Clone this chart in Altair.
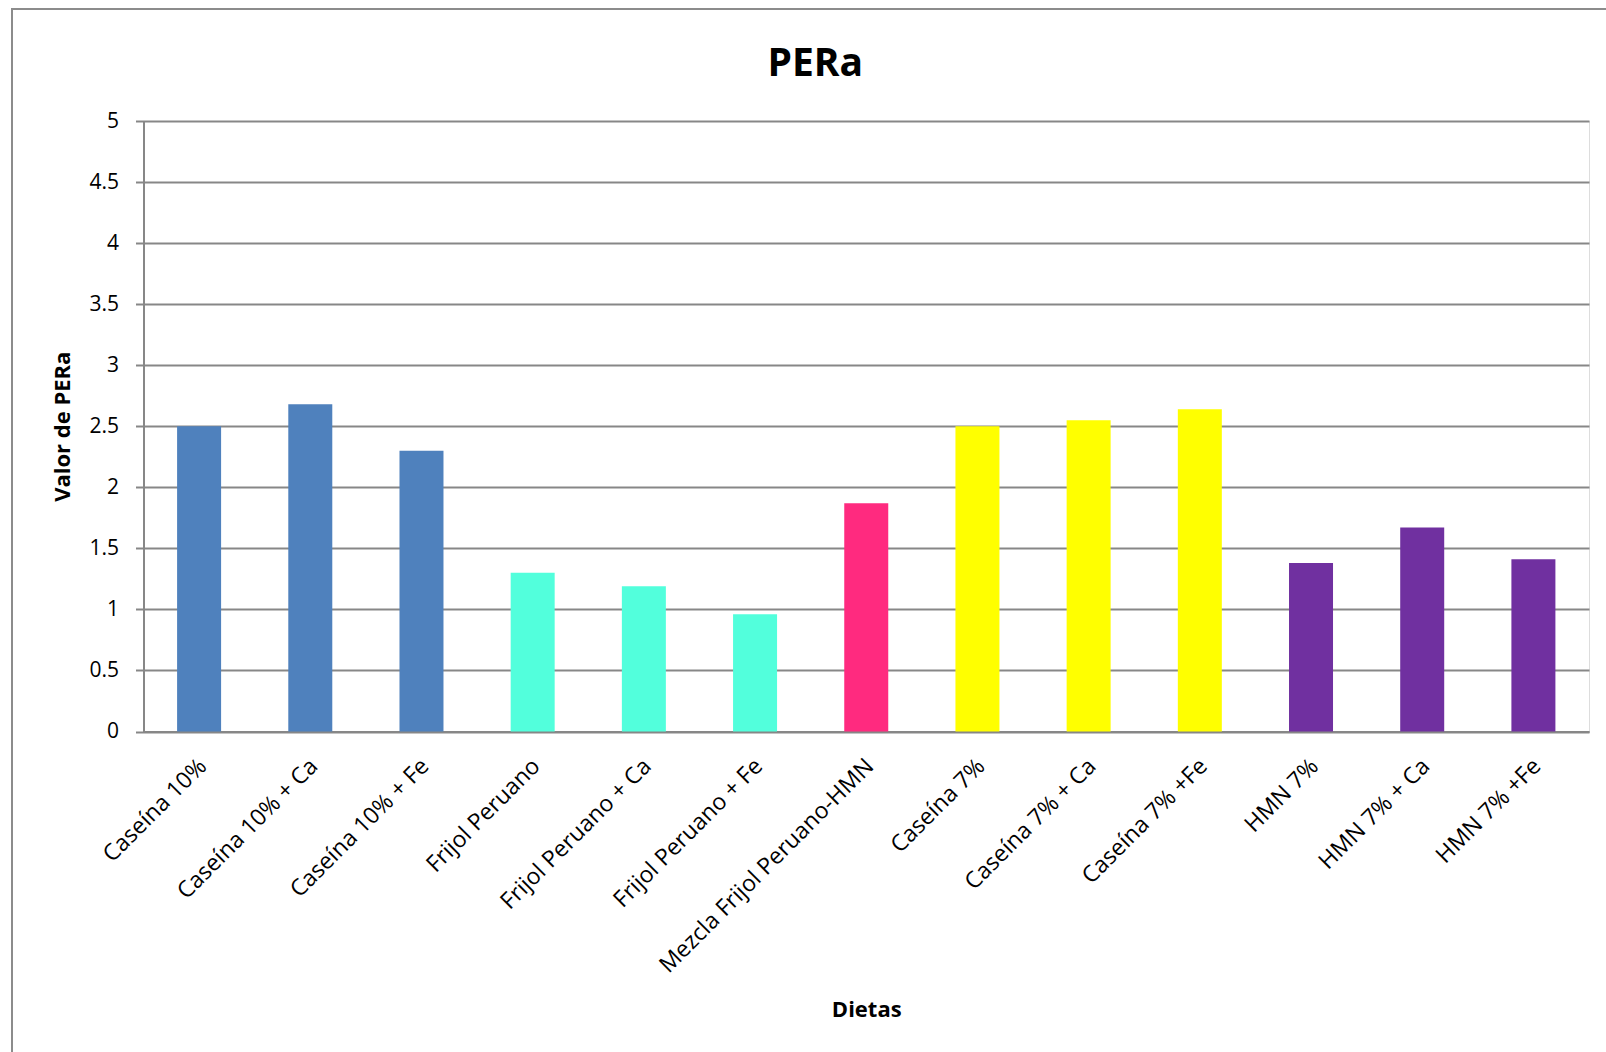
import altair as alt
import pandas as pd

# PERa value per diet, grouped by protein source
dietas = [
    "Caseína 10%", "Caseína 10% + Ca", "Caseína 10% + Fe",
    "Frijol Peruano", "Frijol Peruano + Ca", "Frijol Peruano + Fe",
    "Mezcla Frijol Peruano-HMN",
    "Caseína 7%", "Caseína 7% + Ca", "Caseína 7% +Fe",
    "HMN 7%", "HMN 7% + Ca", "HMN 7% +Fe",
]
pera = [2.50, 2.68, 2.30, 1.30, 1.19, 0.96, 1.87, 2.50, 2.55, 2.64, 1.38, 1.67, 1.41]
grupos = [
    "Caseína 10%", "Caseína 10%", "Caseína 10%",
    "Frijol Peruano", "Frijol Peruano", "Frijol Peruano",
    "Mezcla",
    "Caseína 7%", "Caseína 7%", "Caseína 7%",
    "HMN 7%", "HMN 7%", "HMN 7%",
]
grupo_orden = ["Caseína 10%", "Frijol Peruano", "Mezcla", "Caseína 7%", "HMN 7%"]
grupo_color = ["#4F81BD", "#52FFDC", "#FF2A7F", "#FFFF00", "#7030A0"]
y_ticks = [0, 0.5, 1, 1.5, 2, 2.5, 3, 3.5, 4, 4.5, 5]

df = pd.DataFrame({"Dieta": dietas, "PERa": pera, "Grupo": grupos})

W, H = 1445.5, 610.5
GRID = "#878787"
FONT = "Open Sans"

bars = alt.Chart(df).mark_bar(size=44).encode(
    x=alt.X(
        "Dieta:N",
        sort=dietas,
        scale=alt.Scale(paddingInner=0.6, paddingOuter=0.3),
        axis=alt.Axis(
            title="Dietas",
            titleFont=FONT, titleFontSize=22, titleFontWeight="bold", titleColor="black",
            titleY=277.5, titleBaseline="middle",
            labelFont=FONT, labelFontSize=23, labelColor="black",
            labelAngle=315, labelAlign="right", labelBaseline="top",
            labelPadding=23, labelOffset=-4, labelLimit=500,
            ticks=False, domainColor=GRID, domainWidth=2, grid=False,
        ),
    ),
    y=alt.Y(
        "PERa:Q",
        scale=alt.Scale(domain=[0, 5], nice=False),
        axis=alt.Axis(
            title="Valor de PERa",
            titleFont=FONT, titleFontSize=22, titleFontWeight="bold", titleColor="black",
            titleAngle=270, titleX=-81, titleY=H / 2, titleAlign="center", titleBaseline="middle",
            values=y_ticks, format=".1~f",
            labelFont=FONT, labelFontSize=21, labelColor="black", labelPadding=17,
            tickSize=8, tickColor=GRID, tickWidth=2,
            domainColor=GRID, domainWidth=2,
            grid=True, gridColor=GRID, gridWidth=2,
        ),
    ),
    color=alt.Color(
        "Grupo:N",
        scale=alt.Scale(domain=grupo_orden, range=grupo_color),
        legend=None,
    ),
)

# Outer chart frame
frame = alt.Chart(pd.DataFrame({"k": [0]})).mark_rect(
    fill=None, stroke="#8C8C8C", strokeWidth=2, clip=False
).encode(
    x=alt.value(-131.5), x2=alt.value(W + 40),
    y=alt.value(-112), y2=alt.value(H + 340),
)

chart = alt.layer(frame, bars).properties(
    width=W,
    height=H,
    title=alt.TitleParams(
        "PERa", font=FONT, fontSize=39, fontWeight="bold", color="black",
        anchor="middle", dx=-51, baseline="alphabetic", offset=-107,
    ),
    padding={"left": 143.5, "top": 121, "right": 17, "bottom": 320.5},
    autosize=alt.AutoSizeParams(type="none"),
).configure_view(stroke=None).configure(background="white")

chart.save("out.html", embed_options={"renderer": "svg", "actions": False})
